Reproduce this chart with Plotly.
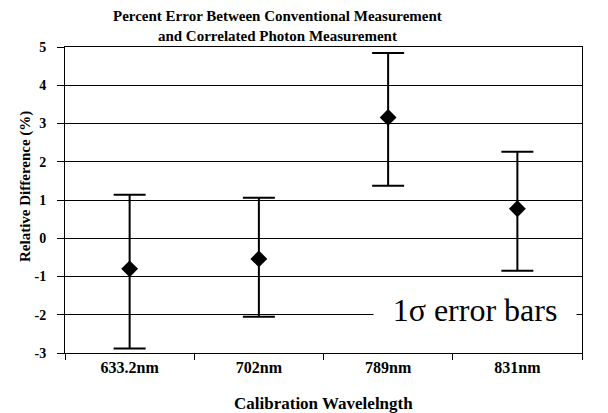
import plotly.graph_objects as go

categories = ["633.2nm", "702nm", "789nm", "831nm"]
values = [-0.80, -0.54, 3.16, 0.77]
upper = [1.14, 1.06, 4.84, 2.26]
lower = [-2.88, -2.05, 1.37, -0.85]
y_ticks = [-3, -2, -1, 0, 1, 2, 3, 4, 5]
y_tick_labels = ["-3", "-2", "-1", "0", "1", "2", "3", "4", "5"]

plus = [u - v for u, v in zip(upper, values)]
minus = [v - l for v, l in zip(values, lower)]

serif = "Liberation Serif"

fig = go.Figure()
fig.add_trace(go.Scatter(
    x=categories, y=values, mode="markers",
    marker=dict(symbol="diamond", size=13, color="black"),
    error_y=dict(type="data", symmetric=False, array=plus, arrayminus=minus,
                 color="black", thickness=2, width=16),
    showlegend=False,
))

# page body has an 8px default margin, so the figure is sized/offset to compensate
fig.update_layout(
    width=600, height=405,
    margin=dict(l=57, r=26, t=39, b=60),
    paper_bgcolor="white", plot_bgcolor="white",
    font=dict(family=serif, color="black", size=13),
    xaxis=dict(
        type="category", tickson="boundaries", range=[-0.5, 3.5],
        showline=True, linecolor="black", linewidth=1, mirror=True,
        showgrid=False, ticks="outside", ticklen=6, tickcolor="black",
        tickfont=dict(family=serif, size=16, weight="bold"),
    ),
    yaxis=dict(
        range=[-3, 5], tickvals=y_ticks, ticktext=y_tick_labels,
        showline=True, linecolor="black", linewidth=1, mirror=True,
        showgrid=True, gridcolor="black", gridwidth=1,
        zeroline=False, ticks="outside", ticklen=7, tickcolor="black",
        ticklabelstandoff=8,
        tickfont=dict(family=serif, size=14, weight="bold"),
    ),
    annotations=[
        dict(text="<b>Percent Error Between Conventional Measurement<br>and Correlated Photon Measurement</b>",
             xref="paper", yref="paper", x=(277 - 65) / 517, y=1, yshift=1,
             xanchor="center", yanchor="bottom", showarrow=False,
             font=dict(family=serif, size=15)),
        dict(text="<b>Calibration Wavelelngth</b>", xref="paper", yref="paper",
             x=0.5, y=0, yshift=-50, xanchor="center", yanchor="middle",
             showarrow=False, font=dict(family=serif, size=17)),
        dict(text="<b>Relative Difference (%)</b>", xref="paper", yref="paper",
             x=0, xshift=-40, y=0.5, yshift=13, textangle=-90,
             xanchor="center", yanchor="middle", showarrow=False,
             font=dict(family=serif, size=15)),
        dict(text="1σ error bars", xref="paper", yref="y",
             x=(475 - 65) / 517, y=-1.87, xanchor="center", yanchor="middle",
             showarrow=False, bgcolor="white", width=200, height=32,
             font=dict(family=serif, size=32)),
    ],
)

fig.write_html("out.html")
